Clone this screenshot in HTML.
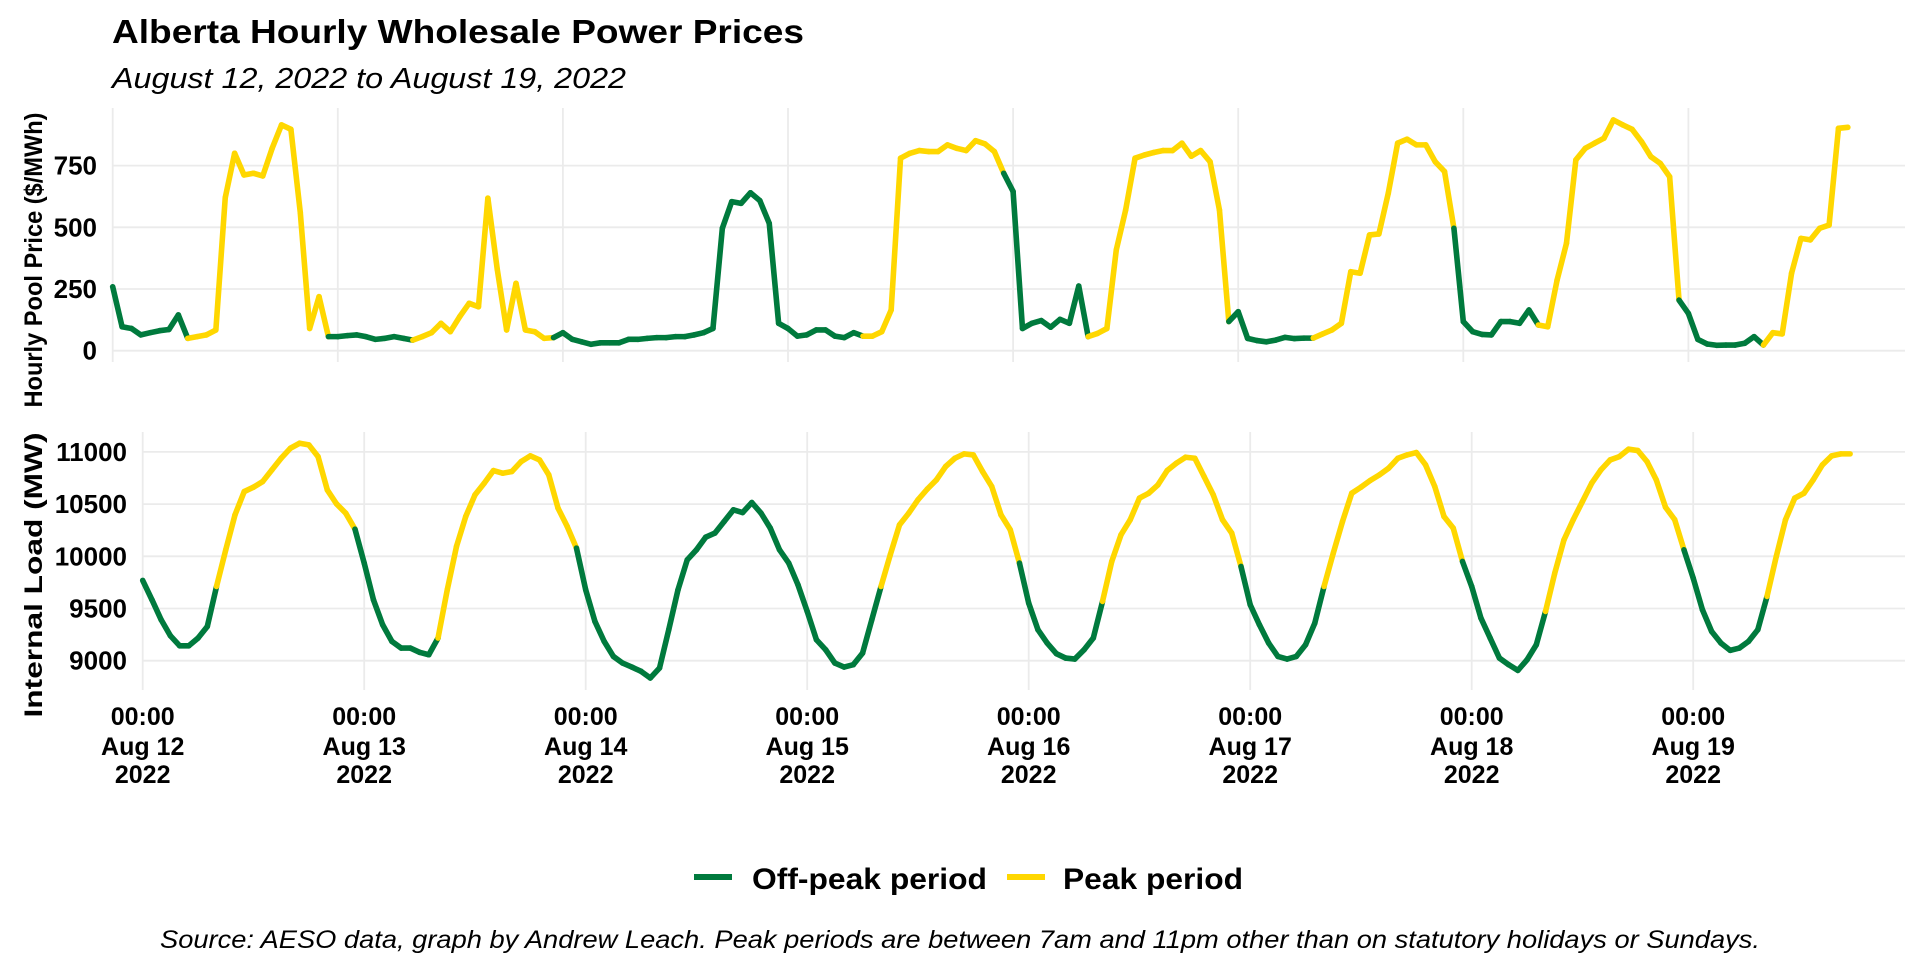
<!DOCTYPE html>
<html><head><meta charset="utf-8"><style>
html,body{margin:0;padding:0;background:#fff;}
svg{display:block;font-family:"Liberation Sans",Arial,sans-serif;}
</style></head><body>
<svg id="chart" width="1920" height="960" viewBox="0 0 1920 960" xmlns="http://www.w3.org/2000/svg">
<text x="112" y="43" font-size="33" font-weight="bold" fill="#000" textLength="692" lengthAdjust="spacingAndGlyphs">Alberta Hourly Wholesale Power Prices</text>
<text x="112" y="88" font-size="29" font-style="italic" fill="#000" textLength="514" lengthAdjust="spacingAndGlyphs">August 12, 2022 to August 19, 2022</text>
<g id="grid"></g>
<g id="lines"></g>
<g id="labels"></g>
<text transform="translate(42,260) rotate(-90)" text-anchor="middle" font-size="25" font-weight="bold" textLength="295" lengthAdjust="spacingAndGlyphs">Hourly Pool Price ($/MWh)</text>
<text transform="translate(42,575) rotate(-90)" text-anchor="middle" font-size="25" font-weight="bold" textLength="285" lengthAdjust="spacingAndGlyphs">Internal Load (MW)</text>
<g>
<line x1="694" y1="877" x2="732" y2="877" stroke="#007A3D" stroke-width="6"/>
<text x="752" y="889" font-size="30" font-weight="bold" textLength="235" lengthAdjust="spacingAndGlyphs">Off-peak period</text>
<line x1="1007" y1="877" x2="1045" y2="877" stroke="#FFD700" stroke-width="6"/>
<text x="1063" y="889" font-size="30" font-weight="bold" textLength="180" lengthAdjust="spacingAndGlyphs">Peak period</text>
</g>
<text x="960" y="948" text-anchor="middle" font-size="25" font-style="italic" textLength="1600" lengthAdjust="spacingAndGlyphs">Source: AESO data, graph by Andrew Leach. Peak periods are between 7am and 11pm other than on statutory holidays or Sundays.</text>
</svg>
<script>
const priceValues=[259,97,90,64,73,81,86,145,50,57,64,84,620,800,712,719,708,820,915,897,560,90,219,57,
57,61,64,57,46,50,57,50,43,57,73,111,77,138,192,178,618,330,84,273,84,77,50,53,
73,46,36,26,32,32,32,46,46,50,53,53,57,57,64,73,90,496,604,597,640,608,516,111,
90,59,64,84,84,59,53,73,59,59,77,165,780,800,811,807,807,834,820,811,851,838,807,719,
645,90,111,122,95,127,111,262,57,70,90,408,570,780,793,803,811,811,841,788,811,766,570,118,
158,50,41,36,43,54,49,51,51,68,84,111,320,314,469,473,638,841,857,834,834,766,726,496,
118,77,66,64,118,118,111,165,104,97,286,435,773,820,841,861,935,915,897,847,786,759,705,205,
151,46,27,22,23,23,30,57,23,73,68,314,455,449,496,509,901,905];
const loadValues=[9769,9584,9392,9239,9143,9143,9217,9328,9711,10062,10397,10620,10662,10716,10828,10939,11035,11083,11067,10955,10636,10502,10413,10260,
9935,9584,9344,9185,9121,9121,9080,9057,9217,9679,10094,10381,10588,10700,10821,10796,10812,10907,10962,10923,10780,10461,10285,10078,
9679,9376,9185,9041,8977,8939,8898,8834,8930,9297,9679,9966,10062,10183,10222,10333,10445,10419,10515,10413,10270,10062,9935,9727,
9472,9201,9105,8977,8939,8962,9073,9392,9711,10014,10301,10413,10541,10643,10732,10860,10939,10981,10971,10812,10668,10397,10254,9935,
9552,9297,9169,9067,9025,9016,9105,9217,9568,9951,10206,10350,10557,10604,10684,10821,10892,10949,10939,10764,10588,10350,10222,9903,
9536,9344,9169,9041,9016,9041,9153,9360,9711,10030,10333,10604,10662,10726,10780,10844,10939,10971,10994,10876,10668,10381,10270,9951,
9711,9408,9217,9025,8962,8907,9009,9153,9472,9839,10158,10350,10525,10700,10828,10923,10955,11026,11013,10907,10732,10470,10350,10062,
9791,9488,9280,9169,9099,9121,9185,9297,9616,9998,10350,10557,10604,10732,10876,10962,10981,10981];
const dayLabels=["Aug 12","Aug 13","Aug 14","Aug 15","Aug 16","Aug 17","Aug 18","Aug 19"];
const priceTicks=[0,250,500,750];
const loadTicks=[9000,9500,10000,10500,11000];
const offPeakDays=[2];

const NS="http://www.w3.org/2000/svg";
const GREEN="#007A3D",YELLOW="#FFD700",GRID="#EBEBEB";
const pTop={x0:112.7,dayW:225.1,right:1905,yTop:108,yBot:362,y0:350.7,k:61.7/250,v0:0};
const pBot={x0:142.7,dayW:221.5,right:1905,yTop:432,yBot:690,y0:660.7,k:52.2/500,v0:9000};
function xs(p,h){return p.x0+h*p.dayW/24;}
function ys(p,v){return p.y0-(v-p.v0)*p.k;}
function mk(tag,attrs,parent){const e=document.createElementNS(NS,tag);for(const k in attrs)e.setAttribute(k,attrs[k]);parent.appendChild(e);return e;}
const gridG=document.getElementById('grid'),linesG=document.getElementById('lines'),labelsG=document.getElementById('labels');
function isPeak(h){const d=Math.floor(h/24),hr=h%24;return offPeakDays.indexOf(d)<0&&hr>=8&&hr<=22;}

function panel(p,ticks,vals,name,labelRight){
  ticks.forEach(t=>{
    const y=ys(p,t);
    const gl=mk('line',{x1:p.x0,x2:p.right,y1:y,y2:y,stroke:GRID,'stroke-width':1.8},gridG);
    
    
    const tx=mk('text',{x:labelRight,y:y+9,'text-anchor':'end','font-size':26,'font-weight':'bold',fill:'#000'},labelsG);
    tx.textContent=t;
    
    
  });
  dayLabels.forEach((d,i)=>{
    const x=xs(p,i*24);
    const gl=mk('line',{x1:x,x2:x,y1:p.yTop,y2:p.yBot,stroke:GRID,'stroke-width':1.8},gridG);
    
    
  });
  for(let i=0;i<vals.length-1;i++){
    const s=mk('line',{x1:xs(p,i),y1:ys(p,vals[i]),x2:xs(p,i+1),y2:ys(p,vals[i+1]),stroke:isPeak(i)?YELLOW:GREEN,'stroke-width':5.6,'stroke-linecap':'round'},linesG);
    
    
  }
}
panel(pTop,priceTicks,priceValues,'price',97);
panel(pBot,loadTicks,loadValues,'load',127);
dayLabels.forEach((d,i)=>{
  const x=xs(pBot,i*24);
  [["00:00",725],[d,755],["2022",783]].forEach(([t,y])=>{
    const tx=mk('text',{x:x,y:y,'text-anchor':'middle','font-size':25,'font-weight':'bold',fill:'#000'},labelsG);
    tx.textContent=t;
    
    
  });
});
</script>
</body></html>
